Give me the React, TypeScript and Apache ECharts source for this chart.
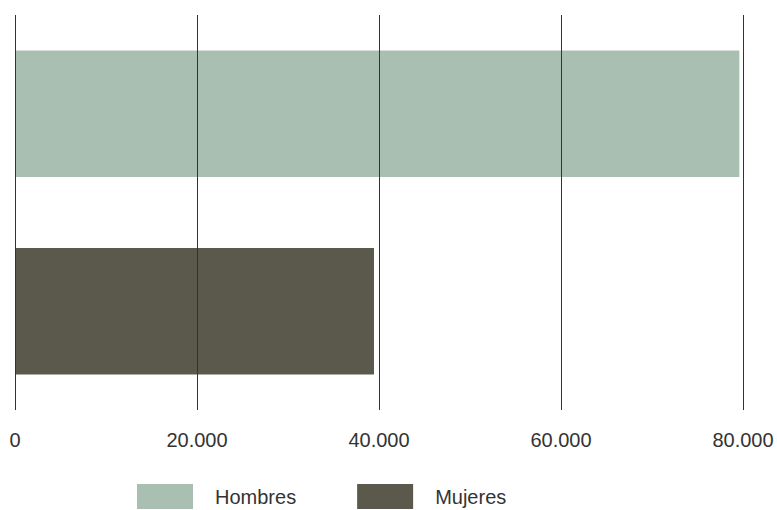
import React, { useEffect, useRef } from "react";
import * as echarts from "echarts";

const categories = ["Hombres", "Mujeres"];
const hombresValues = [79600, "-"];
const mujeresValues = ["-", 39450];
const xTicks = [0, 20000, 40000, 60000, 80000];

const fmt = (v: number) => String(v).replace(/\B(?=(\d{3})+(?!\d))/g, ".");

export default function App() {
  const ref = useRef<HTMLDivElement>(null);
  useEffect(() => {
    if (!ref.current) return;
    const chart = echarts.init(ref.current, undefined, { renderer: "svg" });
    chart.setOption({
      animation: false,
      textStyle: { fontFamily: "'Liberation Sans', Arial, sans-serif" },
      grid: { left: 15, right: 34, top: 15, bottom: 100, containLabel: false },
      xAxis: {
        type: "value",
        min: xTicks[0],
        max: xTicks[xTicks.length - 1],
        interval: xTicks[1] - xTicks[0],
        z: 10,
        axisLine: { show: false },
        axisTick: { show: false },
        splitLine: { show: true, lineStyle: { color: "#333333", width: 1 } },
        axisLabel: {
          formatter: (v: number) => fmt(v),
          color: "#333333",
          fontSize: 20,
          margin: 20,
        },
      },
      yAxis: {
        type: "category",
        data: categories,
        inverse: true,
        axisLine: { show: false },
        axisTick: { show: false },
        axisLabel: { show: false },
        splitLine: { show: false },
      },
      legend: {
        left: 137,
        top: 484,
        padding: 0,
        itemWidth: 56,
        itemHeight: 25,
        itemGap: 61,
        icon: "rect",
        textStyle: { fontSize: 20, color: "#333333", padding: [0, 0, 0, 17] },
        data: categories,
      },
      series: [
        {
          name: "Hombres",
          type: "bar",
          stack: "t",
          data: hombresValues,
          barCategoryGap: "36%",
          itemStyle: { color: "#a8bfb1" },
        },
        {
          name: "Mujeres",
          type: "bar",
          stack: "t",
          data: mujeresValues,
          barCategoryGap: "36%",
          itemStyle: { color: "#5b594b" },
        },
      ],
    });
    return () => chart.dispose();
  }, []);
  return <div ref={ref} style={{ width: 777, height: 510, position: "absolute", left: 0, top: 0 }} />;
}
